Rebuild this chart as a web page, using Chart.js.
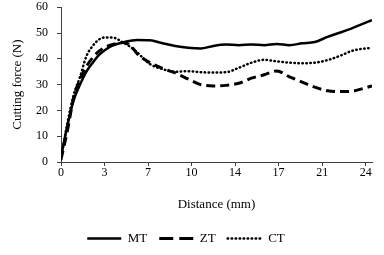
<!DOCTYPE html>
<html>
<head>
<meta charset="utf-8">
<script src="https://cdn.jsdelivr.net/npm/chart.js@4/dist/chart.umd.min.js"></script>
<style>
  html, body { margin: 0; padding: 0; background: #fff; }
  #wrap { width: 384px; height: 255px; }
</style>
</head>
<body>
<div id="wrap"><canvas id="c" width="384" height="255"></canvas></div>
<script>
// Distance (mm)
const distance = [0, 0.5, 1, 1.5, 2, 2.5, 3, 3.5, 4, 5, 5.5, 6, 7, 8, 9, 10, 11, 12, 13, 14, 15, 16, 17, 18, 19, 20, 21, 22, 23, 24, 24.5];
// Cutting force (N)
const mtForce = [2, 14, 24, 30, 35, 38.5, 41.5, 43.5, 45, 46.5, 47, 47.3, 47.2, 46, 45, 44.3, 44, 45, 45.5, 45.3, 45.5, 45.3, 45.7, 45.3, 46, 46.5, 48.5, 50.2, 52, 54, 55];
const ztForce = [1, 12, 25, 32, 37, 40.5, 43, 44.5, 45.5, 46.3, 45, 42, 38.5, 36.3, 34.5, 32.2, 30, 29.5, 29.7, 30.5, 32.5, 33.8, 35.3, 33, 31, 29, 27.6, 27.3, 27.5, 28.8, 29.5];
const ctForce = [1, 15, 26, 33, 41, 45, 47.5, 48.3, 48.3, 46, 44.5, 42.5, 38, 36, 35, 35.2, 34.8, 34.7, 34.8, 36.5, 38.5, 39.6, 39, 38.5, 38.3, 38.5, 39.5, 41.2, 43.2, 44, 44.2];
const seriesNames = ['MT', 'ZT', 'CT'];
const xTickValues = [0, 24/7, 48/7, 72/7, 96/7, 120/7, 144/7, 24];
const yTickLabels = [0, 10, 20, 30, 40, 50, 60];

const pts = (ys) => distance.map((d, i) => ({ x: d, y: ys[i] }));
const FONT = "'Liberation Serif', 'Times New Roman', serif";
const axisColor = '#404040';

new Chart(document.getElementById('c'), {
  type: 'line',
  data: {
    datasets: [
      { label: seriesNames[0], data: pts(mtForce), borderColor: '#000', backgroundColor: '#000', borderWidth: 2.5, pointRadius: 0, pointStyle: 'line', cubicInterpolationMode: 'monotone' },
      { label: seriesNames[1], data: pts(ztForce), borderColor: '#000', backgroundColor: '#000', borderWidth: 3, borderDash: [9, 5], pointRadius: 0, pointStyle: 'line', cubicInterpolationMode: 'monotone' },
      { label: seriesNames[2], data: pts(ctForce), borderColor: '#000', backgroundColor: '#000', borderWidth: 2.5, borderDash: [0.5, 3.5], borderCapStyle: 'round', pointRadius: 0, pointStyle: 'line', cubicInterpolationMode: 'monotone' }
    ]
  },
  options: {
    responsive: false,
    animation: false,
    devicePixelRatio: 1,
    layout: { padding: { top: 0, right: 12, left: 0, bottom: 0 } },
    plugins: {
      tooltip: { enabled: false },
      legend: {
        position: 'bottom',
        labels: {
          usePointStyle: true,
          pointStyleWidth: 34,
          color: '#000',
          padding: 12,
          font: { family: FONT, size: 13 },
          generateLabels: (chart) => chart.data.datasets.map((ds, i) => ({
            text: ds.label,
            fillStyle: ds.borderColor,
            strokeStyle: ds.borderColor,
            lineWidth: i === 1 ? 3 : 2.5,
            lineDash: i === 1 ? [14, 6] : (ds.borderDash || []),
            lineCap: ds.borderCapStyle || 'butt',
            pointStyle: 'line',
            fontColor: '#000',
            hidden: false,
            datasetIndex: i
          }))
        }
      }
    },
    scales: {
      x: {
        type: 'linear',
        min: 0,
        max: 24.5,
        afterBuildTicks: (s) => { s.ticks = xTickValues.map(v => ({ value: v })); },
        ticks: {
          color: '#000',
          padding: 0,
          maxRotation: 0,
          autoSkip: false,
          font: { family: FONT, size: 12 },
          callback: (v) => String(Math.round(v))
        },
        grid: { drawOnChartArea: false, drawTicks: true, tickLength: 4, color: axisColor },
        border: { color: axisColor, width: 1 },
        title: { display: true, text: 'Distance (mm)', color: '#000', font: { family: FONT, size: 13 }, padding: { top: 16, bottom: 8 } }
      },
      y: {
        min: 0,
        max: 60,
        afterBuildTicks: (s) => { s.ticks = yTickLabels.map(v => ({ value: v })); },
        ticks: { color: '#000', padding: 0, font: { family: FONT, size: 12 }, callback: (v) => v + '   ' },
        grid: { drawOnChartArea: false, drawTicks: true, tickLength: 4, color: axisColor },
        border: { color: axisColor, width: 1 },
        title: { display: true, text: 'Cutting force (N)', color: '#000', font: { family: FONT, size: 13 }, padding: { top: 10, bottom: 0 } },
        afterFit: (s) => { s.width = 61; }
      }
    }
  }
});
</script>
</body>
</html>
